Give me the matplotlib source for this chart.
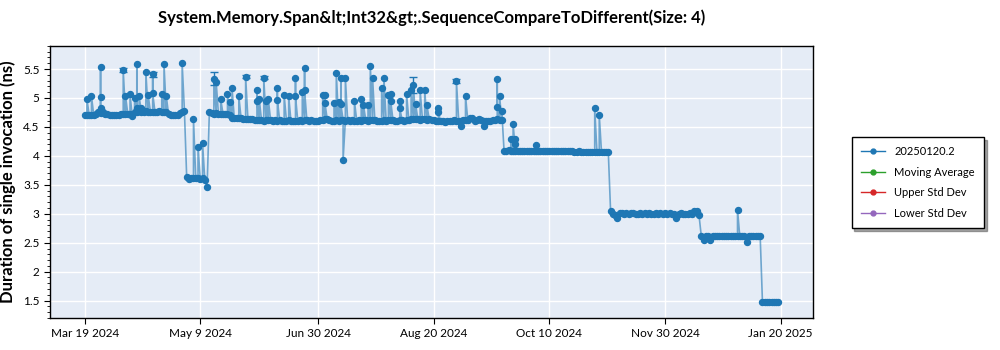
import numpy as np
import pandas as pd
import matplotlib
matplotlib.use("Agg")
import matplotlib.pyplot as plt
import matplotlib.dates as mdates
from matplotlib.lines import Line2D
from matplotlib.ticker import AutoMinorLocator, FuncFormatter

plt.rcParams['font.family'] = ['Lato', 'DejaVu Sans']

title = "System.Memory.Span&lt;Int32&gt;.SequenceCompareToDifferent(Size: 4)"
y_label = "Duration of single invocation (ns)"
series_name = "20250120.2"
legend_labels = [series_name, "Moving Average", "Upper Std Dev", "Lower Std Dev"]
legend_colors = ["#1f77b4", "#2ca02c", "#d62728", "#9467bd"]

start_date = "2024-03-19"

# typical run per day, Mar 19 2024 .. Jan 20 2025 (ns)
daily_values = [
    4.71, 4.70, 4.70, 4.71, 4.70, 4.73, 4.75, 4.74, 4.76, 4.73,   # 0
    4.72, 4.70, 4.71, 4.71, 4.70, 4.71, 4.72, 4.73, 4.72, 4.73,   # 10
    4.72, 4.68, 4.76, 4.76, 4.77, 4.76, 4.76, 4.77, 4.76, 4.76,   # 20
    4.76, 4.76, 4.76, 4.77, 4.76, 4.76, 4.75, 4.72, 4.71, 4.71,   # 30
    4.70, 4.71, 4.74, 4.75, 4.78, 3.63, 3.60, 3.61, 3.62, 3.62,   # 40
    3.61, 3.60, 3.62, 3.58, 3.46, 4.75, 4.74, 4.73, 4.74, 4.73,   # 50
    4.73, 4.73, 4.72, 4.72, 4.70, 4.66, 4.65, 4.66, 4.65, 4.65,   # 60
    4.64, 4.64, 4.64, 4.63, 4.63, 4.62, 4.62, 4.62, 4.62, 4.61,   # 70
    4.62, 4.62, 4.62, 4.61, 4.62, 4.61, 4.62, 4.61, 4.61, 4.61,   # 80
    4.62, 4.60, 4.61, 4.61, 4.61, 4.62, 4.61, 4.62, 4.62, 4.61,   # 90
    4.62, 4.61, 4.60, 4.61, 4.62, 4.62, 4.63, 4.63, 4.62, 4.61,   # 100
    4.61, 4.62, 4.61, 4.62, 4.62, 4.61, 4.62, 4.61, 4.62, 4.61,   # 110
    4.61, 4.62, 4.61, 4.62, 4.62, 4.61, 4.62, 4.62, 4.62, 4.61,   # 120
    4.60, 4.61, 4.62, 4.61, 4.62, 4.62, 4.62, 4.60, 4.61, 4.62,   # 130
    4.62, 4.61, 4.62, 4.62, 4.63, 4.63, 4.63, 4.63, 4.62, 4.63,   # 140
    4.63, 4.62, 4.63, 4.62, 4.62, 4.61, 4.61, 4.60, 4.60, 4.59,   # 150
    4.60, 4.60, 4.61, 4.62, 4.61, 4.61, 4.60, 4.62, 4.62, 4.62,   # 160
    4.66, 4.66, 4.61, 4.62, 4.63, 4.62, 4.60, 4.61, 4.60, 4.61,   # 170
    4.62, 4.62, 4.63, 4.62, 4.62, 4.09, 4.08, 4.10, 4.09, 4.09,   # 180
    4.09, 4.09, 4.08, 4.09, 4.08, 4.09, 4.08, 4.09, 4.08, 4.09,   # 190
    4.09, 4.08, 4.09, 4.08, 4.08, 4.09, 4.08, 4.09, 4.08, 4.08,   # 200
    4.09, 4.08, 4.08, 4.09, 4.08, 4.08, 4.07, 4.07, 4.08, 4.07,   # 210
    4.07, 4.07, 4.06, 4.07, 4.07, 4.07, 4.06, 4.06, 4.06, 4.07,   # 220
    4.06, 4.06, 3.05, 3.00, 2.98, 2.93, 3.01, 3.02, 3.00, 3.01,   # 230
    3.00, 3.02, 3.01, 3.00, 2.99, 3.01, 3.00, 3.02, 3.00, 3.01,   # 240
    3.00, 2.99, 3.01, 3.00, 3.01, 3.00, 3.02, 3.00, 3.01, 3.00,   # 250
    2.99, 2.93, 3.00, 3.01, 3.00, 3.00, 2.99, 3.01, 3.00, 3.04,   # 260
    3.05, 2.98, 2.62, 2.55, 2.61, 2.62, 2.55, 2.61, 2.61, 2.62,   # 270
    2.61, 2.61, 2.62, 2.61, 2.61, 2.61, 2.61, 2.61, 2.62, 2.61,   # 280
    2.61, 2.62, 2.51, 2.61, 2.62, 2.61, 2.62, 2.61, 2.61, 1.48,   # 290
    1.47, 1.48, 1.48, 1.47, 1.48, 1.48, 1.48,                     # 300
]

# outlier runs (day index, value)
spike_days = [
    1, 3, 7, 7, 7, 17, 18, 20, 22, 23, 23, 24, 25, 27, 28, 30, 30, 34, 35, 36, 43,
    48, 50, 52,
    57, 58, 60, 63, 64, 65, 68, 71, 76, 76, 77, 79, 80, 81, 85, 85, 88, 90,
    93, 93, 96, 97, 97, 105, 106, 106, 110, 111, 112, 113, 113, 114, 115,
    119, 122, 123, 125, 126, 127, 131, 132, 134, 135, 135, 139, 139, 142,
    144, 145, 146, 148, 150, 151, 156, 156, 164, 166, 168, 176, 182, 182,
    183, 184,
    188, 189, 190, 190, 199, 225, 227,
    288,
]
spike_values = [
    4.98, 5.03, 5.54, 5.02, 4.83, 5.48, 5.04, 5.06, 5.00, 5.58, 4.83, 5.03, 4.83,
    5.44, 5.05, 5.41, 5.08, 5.07, 5.58, 5.03, 5.60,
    4.64, 4.16, 4.22,
    5.33, 5.28, 4.98, 5.06, 4.93, 5.17, 5.03, 5.37, 5.14, 4.95, 4.98, 5.35,
    4.95, 4.98, 5.17, 4.97, 5.05, 5.03,
    5.35, 5.03, 5.10, 5.51, 5.14, 5.05, 5.05, 4.91, 4.91, 5.43, 4.93, 5.35,
    4.89, 3.93, 5.35,
    4.95, 4.98, 4.87, 4.87, 5.56, 5.35, 5.17, 5.35, 5.05, 5.06, 4.95, 4.94,
    4.83, 5.07,
    5.13, 5.22, 4.89, 5.13, 5.13, 4.87, 4.82, 4.76, 5.29, 4.52, 5.04, 4.52,
    5.33, 4.85, 5.04, 4.78,
    4.29, 4.55, 4.30, 4.20, 4.18, 4.82, 4.71,
    3.07,
]

# outlier runs with visible error bars (day index, value, half-width)
err_days = [17, 30, 57, 71, 79, 145, 164]
err_values = [5.48, 5.41, 5.33, 5.37, 5.35, 5.22, 5.29]
err_sizes = [0.04, 0.04, 0.11, 0.03, 0.03, 0.14, 0.03]

tick_dates = ["2024-03-19", "2024-05-09", "2024-06-30", "2024-08-20",
              "2024-10-10", "2024-11-30", "2025-01-20"]


def build_frame():
    base = pd.Timestamp(start_date)
    main = pd.DataFrame({
        "date": [base + pd.Timedelta(days=i) for i in range(len(daily_values))],
        "value": daily_values,
        "order": 0,
    })
    extra = pd.DataFrame({
        "date": [base + pd.Timedelta(days=d) for d in spike_days],
        "value": spike_values,
        "order": 1,
    })
    df = pd.concat([main, extra], ignore_index=True)
    return df.sort_values(["date", "order"], kind="stable").reset_index(drop=True)


def date_label(x, pos):
    d = mdates.num2date(x)
    return f"{d:%b} {d.day} {d.year}"


def main():
    df = build_frame()
    base = pd.Timestamp(start_date)

    fig = plt.figure(figsize=(10, 3.5), dpi=100)
    ax = fig.add_axes([0.05, 0.0914, 0.763, 0.7776])
    ax.set_facecolor("#e5ecf6")

    ax.plot(df["date"], df["value"], color="#1f77b4", linewidth=1.2, alpha=0.6, zorder=2)
    ax.plot(df["date"], df["value"], linestyle="none", marker="o", markersize=4.3,
            color="#1f77b4", zorder=3)

    err_x = [base + pd.Timedelta(days=d) for d in err_days]
    ax.errorbar(err_x, err_values, yerr=err_sizes, fmt="none", ecolor="#1f77b4",
                elinewidth=1, capsize=3, capthick=1, zorder=3)

    ax.set_ylim(1.2, 5.9)
    ax.set_yticks([1.5, 2, 2.5, 3, 3.5, 4, 4.5, 5, 5.5])
    ax.set_yticklabels(["1.5", "2", "2.5", "3", "3.5", "4", "4.5", "5", "5.5"])
    ax.yaxis.set_minor_locator(AutoMinorLocator(5))
    ax.set_xticks([mdates.date2num(pd.Timestamp(t)) for t in tick_dates])
    ax.xaxis.set_major_formatter(FuncFormatter(date_label))

    ax.tick_params(axis="both", which="major", labelsize=8.5, length=4, color="black")
    ax.tick_params(axis="y", which="minor", length=2, color="black")
    ax.grid(True, which="major", color="white", linewidth=1)
    ax.set_axisbelow(True)
    for s in ax.spines.values():
        s.set_color("black")
        s.set_linewidth(1)

    ax.set_ylabel(y_label, fontsize=12, fontweight="bold", labelpad=5)
    fig.text(0.432, 0.948, title, ha="center", va="center", fontsize=12, fontweight="bold")

    handles = [Line2D([0], [0], color=c, marker="o", markersize=3.5, linewidth=1)
               for c in legend_colors]
    leg = fig.legend(handles, legend_labels, loc="center left",
                     bbox_to_anchor=(0.846, 0.479), fontsize=8, frameon=True,
                     fancybox=False, shadow=True, edgecolor="black",
                     handlelength=2.2, borderpad=0.85, labelspacing=0.85)
    leg.get_frame().set_linewidth(1)

    fig.savefig("out.png", dpi=100)


if __name__ == "__main__":
    main()
